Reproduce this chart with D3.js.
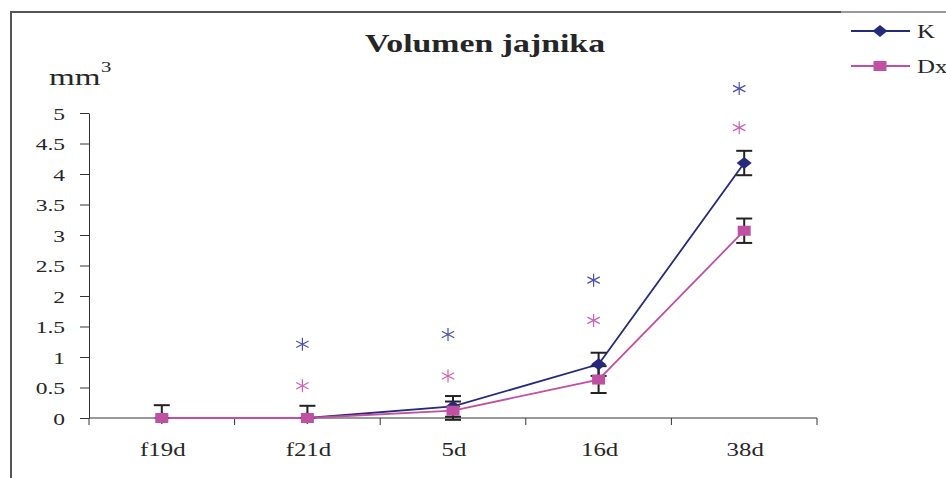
<!DOCTYPE html>
<html><head><meta charset="utf-8">
<script src="https://cdn.jsdelivr.net/npm/d3@7"></script>
<style>body{margin:0;background:#fff}svg{display:block}text{font-family:"Liberation Serif","Times New Roman",serif;fill:#262626}</style>
</head><body>
<script>
const categories = ["f19d","f21d","5d","16d","38d"];
const seriesNames = ["K","Dx"];
const valuesK  = [0, 0, 0.19, 0.88, 4.18];
const valuesDx = [0, 0, 0.12, 0.63, 3.07];
const errK  = [0.21, 0.2, 0.17, 0.19, 0.2];
const errDx = [0, 0, 0.15, 0.22, 0.2];
const sigK  = [null, 1.21, 1.37, 2.26, 5.40];
const sigDx = [null, 0.53, 0.69, 1.60, 4.76];
const yTicks = [0,0.5,1,1.5,2,2.5,3,3.5,4,4.5,5];
const title = "Volumen jajnika";
const unit = "mm";

const W=946,H=478, SX=1.38;
const cK="#262a7a", cDx="#c050a2", cSigK="#4a50b0", cSigDx="#d060b5";
const svg=d3.select("body").append("svg").attr("width",W).attr("height",H);

// frame
svg.append("line").attr("x1",11).attr("y1",12).attr("x2",11).attr("y2",H).attr("stroke","#555").attr("stroke-width",2);
svg.append("line").attr("x1",10).attr("y1",12).attr("x2",841).attr("y2",12).attr("stroke","#555").attr("stroke-width",2);
svg.append("line").attr("x1",841).attr("y1",12).attr("x2",W).attr("y2",12).attr("stroke","#999").attr("stroke-width",2);

const x=d3.scaleBand().domain(categories).range([89,817]).padding(0);
const y=d3.scaleLinear().domain([0,5]).range([418,113]);
const cx=d=>x(d)+x.bandwidth()/2;

function txt(xp,yp,s,size,anchor,weight){
  const g=svg.append("g").attr("transform",`translate(${xp},${yp}) scale(${SX},1)`);
  const t=g.append("text").attr("text-anchor",anchor||"start").style("font-size",size+"px").text(s);
  if(weight) t.style("font-weight",weight);
  return t;
}

// y axis
const ya=svg.append("g").attr("transform","translate(89,0)")
  .call(d3.axisLeft(y).tickValues(yTicks).tickSize(9).tickSizeOuter(0).tickFormat(d3.format("")));
ya.select(".domain").attr("stroke","#333");
ya.selectAll(".tick line").attr("stroke","#333");
ya.selectAll(".tick text").each(function(){
  const t=d3.select(this);
  t.attr("x",null).attr("dy",null).attr("text-anchor","end")
   .attr("transform",`translate(-24,6) scale(${SX},1)`)
   .style("font-size","17px").style("font-family",'"Liberation Serif",serif').attr("fill","#262626");
});

// x axis
const xa=svg.append("g").attr("transform","translate(0,418)")
  .call(d3.axisBottom(x).tickSize(0).tickSizeOuter(0));
xa.select(".domain").attr("stroke","#333").attr("d",`M89,0H817`);
xa.selectAll(".tick text").each(function(){
  d3.select(this).attr("y",null).attr("dy",null).attr("transform",`translate(1,38) scale(${SX},1)`)
   .style("font-size","18px").style("font-family",'"Liberation Serif",serif').attr("fill","#262626");
});
const bounds=categories.map(d=>x(d)).concat([x.range()[1]]);
xa.selectAll(".btick").data(bounds).join("line").attr("class","btick")
  .attr("x1",d=>d).attr("x2",d=>d).attr("y1",0).attr("y2",7).attr("stroke","#333");

// title and unit
txt(485,52,title,24.5,"middle","bold");
txt(49,85,unit,24,"start");
txt(101,72,"3",15,"start");

// lines
const line=d3.line().x((d,i)=>cx(categories[i])).y(d=>y(d));
svg.append("path").datum(valuesK).attr("d",line).attr("fill","none").attr("stroke",cK).attr("stroke-width",1.8);
svg.append("path").datum(valuesDx).attr("d",line).attr("fill","none").attr("stroke",cDx).attr("stroke-width",1.8);

// error bars (clipped to plot area)
svg.append("clipPath").attr("id","pa").append("rect").attr("x",80).attr("y",100).attr("width",760).attr("height",322);
const eb=svg.append("g").attr("clip-path","url(#pa)");
function errBars(vals,errs){
  vals.forEach((v,i)=>{
    if(!errs[i]) return;
    const xc=cx(categories[i]), y1=y(v+errs[i]), y2=y(v-errs[i]);
    eb.append("line").attr("x1",xc).attr("x2",xc).attr("y1",y1).attr("y2",y2).attr("stroke","#222").attr("stroke-width",2);
    [y1,y2].forEach(yy=>eb.append("line").attr("x1",xc-8).attr("x2",xc+8).attr("y1",yy).attr("y2",yy).attr("stroke","#222").attr("stroke-width",2));
  });
}
errBars(valuesK,errK);
errBars(valuesDx,errDx);

// markers
function diamond(g,xc,yc,c){g.append("path").attr("d",`M${xc-7.5},${yc}L${xc},${yc-6}L${xc+7.5},${yc}L${xc},${yc+6}Z`).attr("fill",c);}
function square(g,xc,yc,c){g.append("rect").attr("x",xc-6.5).attr("y",yc-5).attr("width",13).attr("height",10).attr("fill",c);}
valuesK.forEach((v,i)=>diamond(svg,cx(categories[i]),y(v),cK));
valuesDx.forEach((v,i)=>square(svg,cx(categories[i]),y(v),cDx));

// significance asterisks
function asterisk(xc,yc,c){
  const r=6.5, a=Math.PI/6, dx=r*Math.cos(a)*1.1, dy=r*Math.sin(a);
  svg.append("path").attr("d",`M${xc},${yc-r}V${yc+r}M${xc-dx},${yc-dy}L${xc+dx},${yc+dy}M${xc-dx},${yc+dy}L${xc+dx},${yc-dy}`)
    .attr("stroke",c).attr("stroke-width",1.2).attr("fill","none");
}
sigK.forEach((v,i)=>{ if(v!=null) asterisk(cx(categories[i])-5,y(v),cSigK); });
sigDx.forEach((v,i)=>{ if(v!=null) asterisk(cx(categories[i])-5,y(v),cSigDx); });

// legend
const lg=[{n:seriesNames[0],c:cK,m:diamond,y:31},{n:seriesNames[1],c:cDx,m:square,y:66}];
lg.forEach(d=>{
  svg.append("line").attr("x1",851).attr("x2",910).attr("y1",d.y).attr("y2",d.y).attr("stroke",d.c).attr("stroke-width",1.8);
  d.m(svg,880,d.y,d.c);
  txt(917,d.y+7,d.n,18,"start");
});
</script>
</body></html>
